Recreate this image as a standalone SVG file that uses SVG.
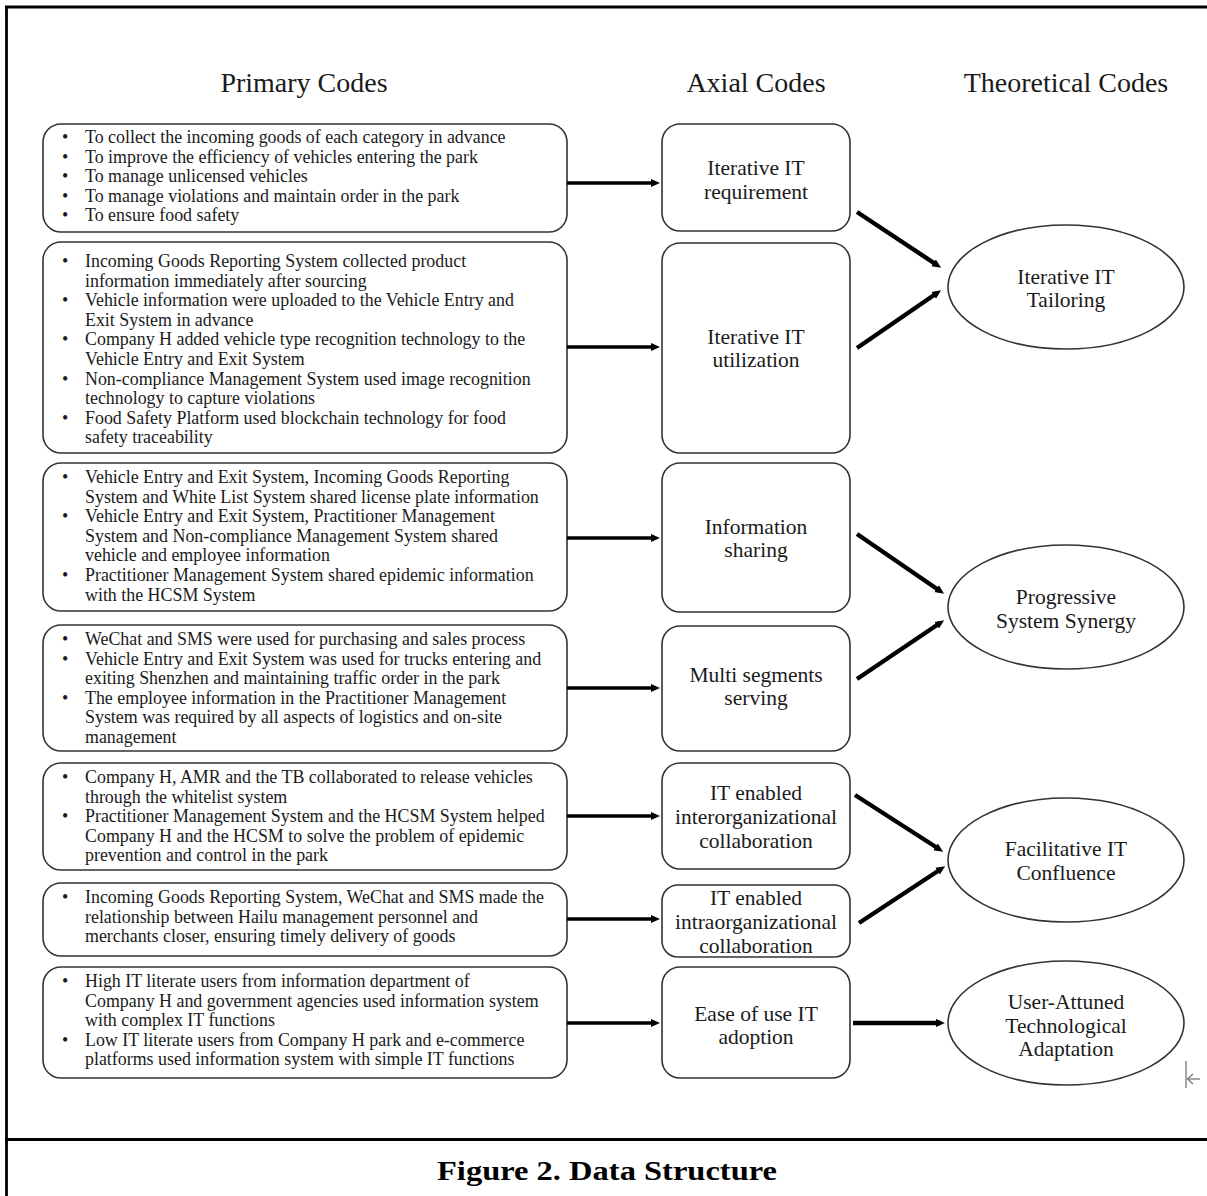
<svg xmlns="http://www.w3.org/2000/svg" width="1207" height="1196" viewBox="0 0 1207 1196">
<style>
.frame{stroke:#000;stroke-width:2.8;fill:none}
.box{fill:#fff;stroke:#333;stroke-width:1.6}
.hd{font-family:"Liberation Serif",serif;font-size:28px;fill:#1a1a1a;text-anchor:middle}
.bt{font-family:"Liberation Serif",serif;font-size:17.9px;fill:#1a1a1a}
.mt{font-family:"Liberation Serif",serif;font-size:21.5px;fill:#1a1a1a;text-anchor:middle}
.cap{font-family:"Liberation Serif",serif;font-size:27px;font-weight:bold;fill:#000;text-anchor:middle}
.ar{stroke:#000;stroke-width:3.6;fill:none;marker-end:url(#ah)}
.ad{stroke:#000;stroke-width:4.4;fill:none;marker-end:url(#ah)}
</style>
<defs>
<marker id="ah" viewBox="0 0 10 10" refX="4.5" refY="5" markerWidth="9" markerHeight="9" markerUnits="userSpaceOnUse" orient="auto">
<path d="M0,0.5 L10,5 L0,9.5 z" fill="#000"/>
</marker>
</defs>
<rect width="1207" height="1196" fill="#fff"/>
<g id="frame">
<line class="frame" x1="6.5" y1="7" x2="6.5" y2="1196"/>
<line class="frame" x1="5" y1="7" x2="1207" y2="7"/>
<line class="frame" x1="5" y1="1139.5" x2="1207" y2="1139.5"/>
</g>
<g id="headers">
<text class="hd" x="304" y="92">Primary Codes</text>
<text class="hd" x="756" y="92">Axial Codes</text>
<text class="hd" x="1066" y="92">Theoretical Codes</text>
</g>

<g id="primary1">
<rect class="box" x="43" y="124" width="524" height="108" rx="18"/>
<text class="bt"><tspan x="62" y="143">•</tspan><tspan x="85" y="143">To collect the incoming goods of each category in advance</tspan>
<tspan x="62" y="162.6">•</tspan><tspan x="85" y="162.6">To improve the efficiency of vehicles entering the park</tspan>
<tspan x="62" y="182.2">•</tspan><tspan x="85" y="182.2">To manage unlicensed vehicles</tspan>
<tspan x="62" y="201.8">•</tspan><tspan x="85" y="201.8">To manage violations and maintain order in the park</tspan>
<tspan x="62" y="221.4">•</tspan><tspan x="85" y="221.4">To ensure food safety</tspan></text>
</g>
<g id="primary2">
<rect class="box" x="43" y="242" width="524" height="211" rx="18"/>
<text class="bt"><tspan x="62" y="267">•</tspan><tspan x="85" y="267">Incoming Goods Reporting System collected product</tspan>
<tspan x="85" y="286.6">information immediately after sourcing</tspan>
<tspan x="62" y="306.2">•</tspan><tspan x="85" y="306.2">Vehicle information were uploaded to the Vehicle Entry and</tspan>
<tspan x="85" y="325.8">Exit System in advance</tspan>
<tspan x="62" y="345.4">•</tspan><tspan x="85" y="345.4">Company H added vehicle type recognition technology to the</tspan>
<tspan x="85" y="365">Vehicle Entry and Exit System</tspan>
<tspan x="62" y="384.6">•</tspan><tspan x="85" y="384.6">Non-compliance Management System used image recognition</tspan>
<tspan x="85" y="404.2">technology to capture violations</tspan>
<tspan x="62" y="423.8">•</tspan><tspan x="85" y="423.8">Food Safety Platform used blockchain technology for food</tspan>
<tspan x="85" y="443.4">safety traceability</tspan></text>
</g>
<g id="primary3">
<rect class="box" x="43" y="463" width="524" height="148" rx="18"/>
<text class="bt"><tspan x="62" y="483">•</tspan><tspan x="85" y="483">Vehicle Entry and Exit System, Incoming Goods Reporting</tspan>
<tspan x="85" y="502.6">System and White List System shared license plate information</tspan>
<tspan x="62" y="522.2">•</tspan><tspan x="85" y="522.2">Vehicle Entry and Exit System, Practitioner Management</tspan>
<tspan x="85" y="541.8">System and Non-compliance Management System shared</tspan>
<tspan x="85" y="561.4">vehicle and employee information</tspan>
<tspan x="62" y="581">•</tspan><tspan x="85" y="581">Practitioner Management System shared epidemic information</tspan>
<tspan x="85" y="600.6">with the HCSM System</tspan></text>
</g>
<g id="primary4">
<rect class="box" x="43" y="625" width="524" height="126" rx="18"/>
<text class="bt"><tspan x="62" y="645">•</tspan><tspan x="85" y="645">WeChat and SMS were used for purchasing and sales process</tspan>
<tspan x="62" y="664.6">•</tspan><tspan x="85" y="664.6">Vehicle Entry and Exit System was used for trucks entering and</tspan>
<tspan x="85" y="684.2">exiting Shenzhen and maintaining traffic order in the park</tspan>
<tspan x="62" y="703.8">•</tspan><tspan x="85" y="703.8">The employee information in the Practitioner Management</tspan>
<tspan x="85" y="723.4">System was required by all aspects of logistics and on-site</tspan>
<tspan x="85" y="743">management</tspan></text>
</g>
<g id="primary5">
<rect class="box" x="43" y="763" width="524" height="107" rx="18"/>
<text class="bt"><tspan x="62" y="783">•</tspan><tspan x="85" y="783">Company H, AMR and the TB collaborated to release vehicles</tspan>
<tspan x="85" y="802.6">through the whitelist system</tspan>
<tspan x="62" y="822.2">•</tspan><tspan x="85" y="822.2">Practitioner Management System and the HCSM System helped</tspan>
<tspan x="85" y="841.8">Company H and the HCSM to solve the problem of epidemic</tspan>
<tspan x="85" y="861.4">prevention and control in the park</tspan></text>
</g>
<g id="primary6">
<rect class="box" x="43" y="883" width="524" height="73" rx="18"/>
<text class="bt"><tspan x="62" y="903">•</tspan><tspan x="85" y="903">Incoming Goods Reporting System, WeChat and SMS made the</tspan>
<tspan x="85" y="922.6">relationship between Hailu management personnel and</tspan>
<tspan x="85" y="942.2">merchants closer, ensuring timely delivery of goods</tspan></text>
</g>
<g id="primary7">
<rect class="box" x="43" y="967" width="524" height="111" rx="18"/>
<text class="bt"><tspan x="62" y="987">•</tspan><tspan x="85" y="987">High IT literate users from information department of</tspan>
<tspan x="85" y="1006.6">Company H and government agencies used information system</tspan>
<tspan x="85" y="1026.2">with complex IT functions</tspan>
<tspan x="62" y="1045.8">•</tspan><tspan x="85" y="1045.8">Low IT literate users from Company H park and e-commerce</tspan>
<tspan x="85" y="1065.4">platforms used information system with simple IT functions</tspan></text>
</g>

<g id="axial1">
<rect class="box" x="662" y="124" width="188" height="107" rx="18"/>
<text class="mt"><tspan x="756" y="175">Iterative IT</tspan><tspan x="756" y="199">requirement</tspan></text>
</g>
<g id="axial2">
<rect class="box" x="662" y="243" width="188" height="210" rx="18"/>
<text class="mt"><tspan x="756" y="344">Iterative IT</tspan><tspan x="756" y="367">utilization</tspan></text>
</g>
<g id="axial3">
<rect class="box" x="662" y="463" width="188" height="149" rx="18"/>
<text class="mt"><tspan x="756" y="534">Information</tspan><tspan x="756" y="557">sharing</tspan></text>
</g>
<g id="axial4">
<rect class="box" x="662" y="626" width="188" height="125" rx="18"/>
<text class="mt"><tspan x="756" y="682">Multi segments</tspan><tspan x="756" y="705">serving</tspan></text>
</g>
<g id="axial5">
<rect class="box" x="662" y="763" width="188" height="106" rx="18"/>
<text class="mt"><tspan x="756" y="800">IT enabled</tspan><tspan x="756" y="824">interorganizational</tspan><tspan x="756" y="848">collaboration</tspan></text>
</g>
<g id="axial6">
<rect class="box" x="662" y="885" width="188" height="72" rx="16"/>
<text class="mt"><tspan x="756" y="905">IT enabled</tspan><tspan x="756" y="929">intraorganizational</tspan><tspan x="756" y="953">collaboration</tspan></text>
</g>
<g id="axial7">
<rect class="box" x="662" y="967" width="188" height="111" rx="18"/>
<text class="mt"><tspan x="756" y="1021">Ease of use IT</tspan><tspan x="756" y="1044">adoption</tspan></text>
</g>

<g id="theory1">
<ellipse class="box" cx="1066" cy="287" rx="118" ry="62"/>
<text class="mt"><tspan x="1066" y="284">Iterative IT</tspan><tspan x="1066" y="307">Tailoring</tspan></text>
</g>
<g id="theory2">
<ellipse class="box" cx="1066" cy="607" rx="118" ry="62"/>
<text class="mt"><tspan x="1066" y="604">Progressive</tspan><tspan x="1066" y="628">System Synergy</tspan></text>
</g>
<g id="theory3">
<ellipse class="box" cx="1066" cy="860" rx="118" ry="62"/>
<text class="mt"><tspan x="1066" y="856">Facilitative IT</tspan><tspan x="1066" y="880">Confluence</tspan></text>
</g>
<g id="theory4">
<ellipse class="box" cx="1066" cy="1023" rx="118" ry="62"/>
<text class="mt"><tspan x="1066" y="1009">User-Attuned</tspan><tspan x="1066" y="1033">Technological</tspan><tspan x="1066" y="1056">Adaptation</tspan></text>
</g>

<g id="connectors">
<line class="ar" x1="567" y1="183" x2="655" y2="183"/>
<line class="ar" x1="567" y1="347" x2="655" y2="347"/>
<line class="ar" x1="567" y1="538" x2="655" y2="538"/>
<line class="ar" x1="567" y1="688" x2="655" y2="688"/>
<line class="ar" x1="567" y1="816" x2="655" y2="816"/>
<line class="ar" x1="567" y1="919" x2="655" y2="919"/>
<line class="ar" x1="567" y1="1023" x2="655" y2="1023"/>
<line class="ad" x1="857" y1="212" x2="937" y2="265"/>
<line class="ad" x1="857" y1="348" x2="937" y2="293"/>
<line class="ad" x1="857" y1="534" x2="940" y2="591"/>
<line class="ad" x1="857" y1="679" x2="940" y2="623"/>
<line class="ad" x1="855" y1="795" x2="939" y2="849"/>
<line class="ad" x1="859" y1="923" x2="941" y2="869"/>
<line class="ad" x1="853" y1="1023" x2="940" y2="1023"/>
</g>

<g id="cursor" stroke="#777" stroke-width="1.3" fill="none">
<line x1="1186" y1="1061" x2="1186" y2="1088"/>
<line x1="1187" y1="1079" x2="1200" y2="1079"/>
<polyline points="1193,1074 1187.5,1079 1193,1084"/>
</g>

<g id="caption">
<text class="cap" x="607" y="1180" textLength="340" lengthAdjust="spacingAndGlyphs">Figure 2. Data Structure</text>
</g>
</svg>
